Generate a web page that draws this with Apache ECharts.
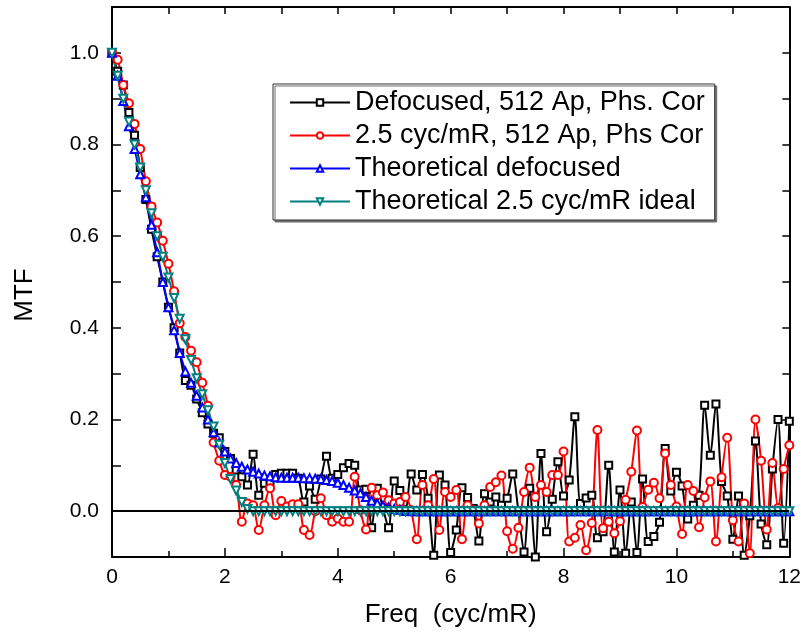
<!DOCTYPE html>
<html>
<head>
<meta charset="utf-8">
<script src="https://cdn.jsdelivr.net/npm/echarts@6/dist/echarts.min.js"></script>
<style>html,body{margin:0;padding:0;background:#fff}#c{width:804px;height:637px}</style>
</head>
<body>
<div id="c"></div>
<script>
var freq = [0,0.1,0.2,0.3,0.4,0.5,0.6,0.7,0.8,0.9,1,1.1,1.2,1.3,1.4,1.5,1.6,1.7,1.8,1.9,2,2.1,2.2,2.3,2.4,2.5,2.6,2.7,2.8,2.9,3,3.1,3.2,3.3,3.4,3.5,3.6,3.7,3.8,3.9,4,4.1,4.2,4.3,4.4,4.5,4.6,4.7,4.8,4.9,5,5.1,5.2,5.3,5.4,5.5,5.6,5.7,5.8,5.9,6,6.1,6.2,6.3,6.4,6.5,6.6,6.7,6.8,6.9,7,7.1,7.2,7.3,7.4,7.5,7.6,7.7,7.8,7.9,8,8.1,8.2,8.3,8.4,8.5,8.6,8.7,8.8,8.9,9,9.1,9.2,9.3,9.4,9.5,9.6,9.7,9.8,9.9,10,10.1,10.2,10.3,10.4,10.5,10.6,10.7,10.8,10.9,11,11.1,11.2,11.3,11.4,11.5,11.6,11.7,11.8,11.9,12];

var defocusedMeas = [1.0,0.96,0.93,0.87,0.82,0.75,0.68,0.615,0.555,0.5,0.445,0.40,0.345,0.285,0.275,0.245,0.215,0.19,0.17,0.16,0.13,0.115,0.09,0.075,0.057,0.124,0.035,0.061,0.063,0.08,0.083,0.083,0.083,0.072,0.02,0.055,0.026,0.07,0.12,0.072,0.08,0.095,0.104,0.10,0.046,0.048,-0.036,0.05,0.007,-0.036,0.066,0.045,0.0,0.081,0.046,0.08,0.028,-0.096,0.079,0.057,-0.09,-0.041,0.051,0.03,0.006,-0.065,0.038,0.02,0.031,0.013,0.028,0.081,0.0,-0.089,0.05,-0.1,0.126,-0.045,0.026,0.108,0.033,0.068,0.206,0.017,0.029,0.035,-0.058,-0.045,0.1,-0.089,0.046,-0.092,0.02,-0.09,0.07,-0.066,-0.055,-0.024,0.137,0.044,0.085,0.055,-0.017,0.013,0.035,0.231,0.122,0.234,0.065,0.033,-0.061,0.033,-0.096,-0.01,0.153,-0.028,-0.073,0.092,0.2,-0.07,0.196];

var cyc25Meas = [1.0,0.985,0.93,0.89,0.845,0.79,0.72,0.665,0.63,0.59,0.54,0.48,0.41,0.38,0.35,0.325,0.28,0.23,0.15,0.11,0.079,0.075,0.057,-0.023,0.017,0.013,-0.041,0.013,0.05,-0.009,0.022,0.01,0.015,0.015,-0.041,-0.052,0.0,0.028,-0.009,-0.023,-0.016,-0.023,-0.023,0.075,0.002,-0.04,0.051,0.035,0.041,0.024,0.017,0.02,0.031,0.002,-0.061,0.057,0.013,0.07,-0.041,0.042,0.031,0.046,-0.061,0.013,0.002,-0.027,0.013,0.053,0.063,0.078,-0.044,-0.082,-0.036,0.042,0.095,0.031,0.057,0.042,0.079,0.079,0.13,-0.066,-0.058,-0.03,-0.085,-0.026,0.177,-0.037,-0.023,-0.048,-0.022,0.025,0.086,0.176,0.009,0.047,0.062,0.028,0.126,0.057,0.01,-0.05,0.057,0.044,-0.035,0.03,0.065,-0.066,0.074,0.16,-0.02,-0.066,0.017,-0.092,0.2,0.11,-0.04,0.105,0.007,0.092,0.144];

var theoDefocused = [1.0,0.95,0.895,0.84,0.79,0.735,0.685,0.625,0.565,0.5,0.445,0.395,0.345,0.305,0.28,0.252,0.226,0.2,0.172,0.15,0.13,0.115,0.105,0.097,0.091,0.086,0.082,0.078,0.076,0.074,0.073,0.073,0.073,0.073,0.072,0.072,0.071,0.07,0.068,0.066,0.062,0.057,0.051,0.045,0.039,0.031,0.023,0.017,0.012,0.008,0.005,0.003,0.001,0,0,0,0,0,0,0,0,0,0,0,0,0,0,0,0,0,0,0,0,0,0,0,0,0,0,0,0,0,0,0,0,0,0,0,0,0,0,0,0,0,0,0,0,0,0,0,0,0,0,0,0,0,0,0,0,0,0,0,0,0,0,0,0,0,0,0,0];

var theoIdeal = [1.0,0.95,0.90,0.85,0.80,0.75,0.70,0.65,0.60,0.555,0.51,0.465,0.42,0.375,0.33,0.29,0.255,0.22,0.185,0.145,0.105,0.07,0.045,0.02,0.005,0,0,0,0,0,0,0,0,0,0,0,0,0,0,0,0,0,0,0,0,0,0,0,0,0,0,0,0,0,0,0,0,0,0,0,0,0,0,0,0,0,0,0,0,0,0,0,0,0,0,0,0,0,0,0,0,0,0,0,0,0,0,0,0,0,0,0,0,0,0,0,0,0,0,0,0,0,0,0,0,0,0,0,0,0,0,0,0,0,0,0,0,0,0,0,0];

var seriesNames = ['Defocused, 512 Ap, Phs. Cor','2.5 cyc/mR, 512 Ap, Phs Cor','Theoretical defocused','Theoretical 2.5 cyc/mR ideal'];
var xTitle = 'Freq  (cyc/mR)';
var yTitle = 'MTF';

function pairs(ys){ return freq.map(function(x,i){ return [x, ys[i]]; }); }

function hasFont(f){
  var c = document.createElement('canvas').getContext('2d');
  var s = 'MTF Freq (cyc/mR) 0.123';
  c.font = '40px monospace'; var w1 = c.measureText(s).width;
  c.font = "40px '" + f + "', monospace"; var w2 = c.measureText(s).width;
  return Math.abs(w1 - w2) > 0.5;
}
var SANS = "'Liberation Sans', Arial, sans-serif";
var narrowOK = hasFont('Liberation Sans Narrow');
var NARROW = narrowOK ? "'Liberation Sans Narrow', 'Liberation Sans', sans-serif" : SANS;
var titleSize = narrowOK ? 31 : 26;
var tickSize = narrowOK ? 24 : 21;

var chart = echarts.init(document.getElementById('c'), null, {renderer:'canvas'});

function mkSeries(name, ys, color, symbol, rot, smooth, size, extra){
  var s = {
    name: name, type: 'line', data: pairs(ys),
    symbol: symbol, symbolSize: size, symbolRotate: rot,
    smooth: smooth,
    lineStyle: {color: color, width: 2},
    itemStyle: {color: color, borderWidth: 1.5},
    clip: true, animation: false
  };
  if (extra) for (var k in extra) s[k] = extra[k];
  return s;
}

var option = {
  animation: false,
  backgroundColor: '#fff',
  grid: {left: 112, right: 9, top: 7, bottom: 80, containLabel: false},
  legend: {
    orient: 'vertical', left: 273, top: 84,
    padding: [5, 10, 5, 16], itemGap: 6,
    itemWidth: 60, itemHeight: 8,
    borderColor: '#333', borderWidth: 1,
    backgroundColor: '#fff',
    shadowColor: 'rgba(110,110,110,1)', shadowOffsetX: 2, shadowOffsetY: 2, shadowBlur: 0,
    textStyle: {fontFamily: SANS, fontSize: 27, color: '#000'},
    data: seriesNames
  },
  xAxis: [{
    type: 'value', min: 0, max: 12, interval: 2,
    name: xTitle, nameLocation: 'middle', nameGap: 45,
    nameTextStyle: {fontFamily: NARROW, fontSize: titleSize, color: '#000'},
    axisLine: {onZero: false, lineStyle: {color: '#000', width: 2}},
    axisTick: {inside: true, length: 9, lineStyle: {color: '#000', width: 1.5}},
    minorTick: {show: true, splitNumber: 2, length: 6, lineStyle: {color: '#000', width: 1.5}},
    axisLabel: {fontFamily: NARROW, fontSize: tickSize, color: '#000', margin: 10},
    splitLine: {show: false}
  }, {
    type: 'value', min: 0, max: 12, interval: 1, position: 'top',
    axisLine: {onZero: false, lineStyle: {color: '#000', width: 2}},
    axisTick: {inside: true, length: 7, lineStyle: {color: '#000', width: 1.5}},
    axisLabel: {show: false}, splitLine: {show: false}
  }],
  yAxis: [{
    type: 'value', min: -0.1, max: 1.1, interval: 0.1,
    name: yTitle, nameLocation: 'middle', nameGap: 74,
    nameTextStyle: {fontFamily: NARROW, fontSize: titleSize, color: '#000', padding: [0, 26, 0, 0]},
    axisLine: {onZero: false, lineStyle: {color: '#000', width: 2}},
    axisTick: {inside: true, length: 9, lineStyle: {color: '#000', width: 1.5}},
    axisLabel: {fontFamily: NARROW, fontSize: tickSize, color: '#000', margin: 13,
      formatter: function(v){ var k = Math.round(v*10); return (k % 2 === 0 && k >= 0 && k <= 10) ? (k/10).toFixed(1) : ''; }},
    splitLine: {show: false}
  }, {
    type: 'value', min: -0.1, max: 1.1, interval: 0.1, position: 'right',
    axisLine: {show: true, onZero: false, lineStyle: {color: '#000', width: 2}},
    axisTick: {inside: true, length: 7, lineStyle: {color: '#000', width: 1.5}},
    axisLabel: {show: false}, splitLine: {show: false}
  }],
  series: [
    mkSeries(seriesNames[0], defocusedMeas, '#000000', 'emptyRect', 0, 0.3, 7, {
      markLine: {silent: true, symbol: 'none', animation: false,
        label: {show: false},
        lineStyle: {color: '#000', width: 2, type: 'solid'},
        data: [{yAxis: 0}]}
    }),
    mkSeries(seriesNames[1], cyc25Meas, '#ff0000', 'emptyCircle', 0, 0.3, 8),
    mkSeries(seriesNames[2], theoDefocused, '#0000ff', 'emptyTriangle', 0, false, 8),
    mkSeries(seriesNames[3], theoIdeal, '#008080', 'emptyTriangle', 180, false, 8)
  ]
};
chart.setOption(option);
</script>
</body>
</html>
